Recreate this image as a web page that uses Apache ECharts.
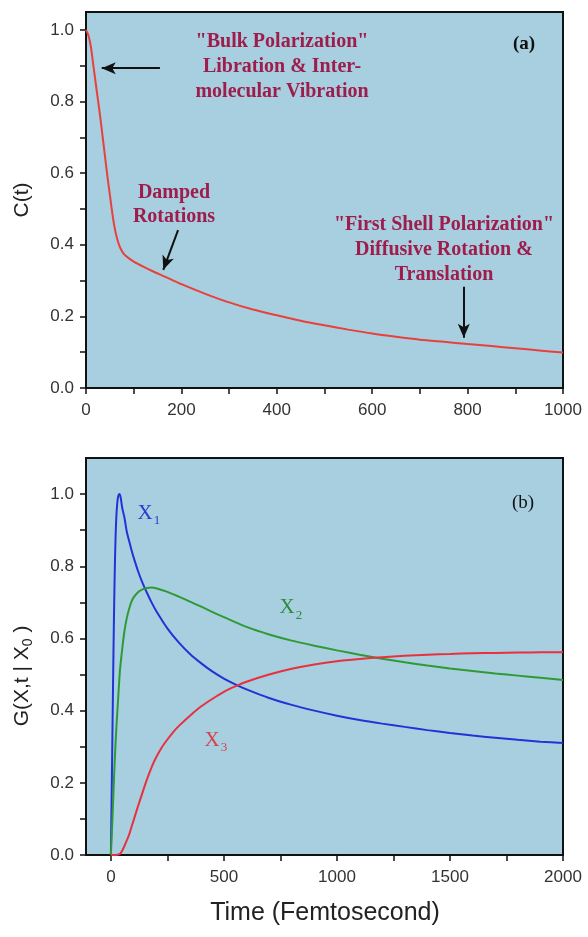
<!DOCTYPE html>
<html><head><meta charset="utf-8">
<script src="https://cdn.jsdelivr.net/npm/echarts@6/dist/echarts.min.js"></script>
<style>html,body{margin:0;padding:0;background:#fff}#c{width:588px;height:937px}</style>
</head><body><div id="c"></div>
<script>
// Panel (a): C(t)
const tA = [0,5,10,15,20,25,30,35,40,45,50,55,60,65,70,75,80,90,100,120,140,160,180,200,250,300,350,400,450,500,550,600,650,700,750,800,850,900,950,1000];
const cA = [1.0,0.985,0.955,0.905,0.855,0.805,0.755,0.700,0.645,0.590,0.540,0.490,0.448,0.418,0.397,0.383,0.373,0.362,0.353,0.339,0.326,0.314,0.302,0.290,0.263,0.239,0.219,0.203,0.188,0.175,0.163,0.152,0.143,0.135,0.129,0.123,0.117,0.111,0.105,0.099];
// Panel (b): G(X,t|X0)
const tX1 = [0,3,6,9,12,15,18,21,24,27,30,34,38,42,46,50,60,70,80,90,100,120,140,160,180,200,250,300,350,400,450,500,550,600,700,800,900,1000,1100,1200,1300,1400,1500,1600,1700,1800,1900,2000];
const gX1 = [0,0.14,0.29,0.44,0.585,0.71,0.81,0.885,0.935,0.965,0.985,0.997,1.0,0.995,0.98,0.962,0.935,0.897,0.872,0.848,0.826,0.787,0.754,0.726,0.700,0.677,0.628,0.589,0.557,0.531,0.508,0.489,0.473,0.459,0.435,0.416,0.400,0.386,0.374,0.364,0.355,0.346,0.338,0.331,0.325,0.319,0.314,0.31];
const tX2 = [0,5,10,15,20,25,30,40,50,60,70,80,90,100,120,140,160,180,200,250,300,350,400,450,500,600,700,800,900,1000,1100,1200,1300,1400,1500,1600,1700,1800,1900,2000];
const gX2 = [0,0.07,0.15,0.23,0.30,0.36,0.41,0.51,0.57,0.62,0.655,0.68,0.70,0.713,0.728,0.736,0.740,0.741,0.739,0.729,0.716,0.702,0.688,0.673,0.659,0.632,0.611,0.594,0.580,0.567,0.555,0.544,0.534,0.525,0.517,0.510,0.503,0.497,0.491,0.485];
const tX3 = [0,20,40,50,60,70,80,90,100,110,120,140,160,180,200,225,250,275,300,350,400,450,500,550,600,700,800,900,1000,1100,1200,1300,1400,1500,1600,1700,1800,1900,2000];
const gX3 = [0,0,0.003,0.012,0.025,0.040,0.055,0.075,0.095,0.115,0.135,0.173,0.210,0.243,0.270,0.298,0.320,0.340,0.357,0.386,0.412,0.433,0.452,0.467,0.480,0.500,0.516,0.528,0.537,0.543,0.548,0.552,0.555,0.557,0.559,0.560,0.561,0.562,0.562];
// Tick values
const xTicksA = [0,100,200,300,400,500,600,700,800,900,1000];
const xLabelsA = [0,200,400,600,800,1000];
const xTicksB = [0,250,500,750,1000,1250,1500,1750,2000];
const xLabelsB = [0,500,1000,1500,2000];
const yTicks = [0,0.1,0.2,0.3,0.4,0.5,0.6,0.7,0.8,0.9,1.0];
const yLabels = [0,0.2,0.4,0.6,0.8,1.0];

const zip = (a,b)=>a.map((v,i)=>[v,b[i]]);
const annCol = '#9e1d4d';
const bg = '#a7cfdf';
const sans = 'Liberation Sans';
const annFont = 'bold 20px "Liberation Serif"';

function xAx(idx, min, max, ticks, labels){
  return {type:'value', gridIndex:idx, min, max,
    axisLine:{show:true, onZero:false, lineStyle:{color:'#111', width:2}},
    axisTick:{show:true, inside:false, length:6, customValues:ticks, lineStyle:{color:'#111', width:1.5}},
    axisLabel:{customValues:labels, margin:14, fontFamily:sans, fontSize:17, color:'#333', formatter:v=>String(v)},
    splitLine:{show:false}};
}
function yAx(idx, max){
  return {type:'value', gridIndex:idx, min:0, max,
    axisLine:{show:true, onZero:false, lineStyle:{color:'#111', width:2}},
    axisTick:{show:true, inside:false, length:6, customValues:yTicks, lineStyle:{color:'#111', width:1.5}},
    axisLabel:{customValues:yLabels, margin:12, fontFamily:sans, fontSize:17, color:'#333', formatter:v=>v.toFixed(1)},
    splitLine:{show:false}};
}
const arrowLine = (p1,p2)=>[{coord:p1},{coord:p2}];

const chart = echarts.init(document.getElementById('c'), null, {renderer:'canvas'});
chart.setOption({
  animation:false,
  grid:[
    {left:86, right:25, top:12, height:376, show:true, backgroundColor:bg, borderColor:'#111', borderWidth:2},
    {left:86, right:25, top:458, height:397, show:true, backgroundColor:bg, borderColor:'#111', borderWidth:2}
  ],
  xAxis:[xAx(0,0,1000,xTicksA,xLabelsA), xAx(1,-110,2000,xTicksB,xLabelsB)],
  yAxis:[yAx(0,1.05), yAx(1,1.1)],
  series:[
    {type:'line', xAxisIndex:0, yAxisIndex:0, data:zip(tA,cA), smooth:0.25, showSymbol:false,
     lineStyle:{color:'#e8403c', width:2},
     markLine:{silent:true, symbol:['none','arrow'], symbolSize:[9,14], label:{show:false},
       lineStyle:{color:'#111', width:2, type:'solid'},
       data:[arrowLine([155,0.893],[33,0.893]), arrowLine([193,0.441],[162,0.330]), arrowLine([792,0.283],[792,0.140])]}},
    {type:'line', xAxisIndex:1, yAxisIndex:1, data:zip(tX1,gX1), smooth:0.25, showSymbol:false, lineStyle:{color:'#2233d6', width:2}},
    {type:'line', xAxisIndex:1, yAxisIndex:1, data:zip(tX2,gX2), smooth:0.25, showSymbol:false, lineStyle:{color:'#2f9a35', width:2}},
    {type:'line', xAxisIndex:1, yAxisIndex:1, data:zip(tX3,gX3), smooth:0.25, showSymbol:false, lineStyle:{color:'#e8303f', width:2}}
  ],
  graphic:[
    {type:'text', x:282, y:67, style:{text:'"Bulk Polarization"\nLibration & Inter-\nmolecular Vibration', fill:annCol, font:annFont, align:'center', verticalAlign:'middle', lineHeight:25}},
    {type:'text', x:524, y:44, style:{text:'(a)', fill:'#111', font:'bold 19px "Liberation Serif"', align:'center', verticalAlign:'middle'}},
    {type:'text', x:174, y:205, style:{text:'Damped\nRotations', fill:annCol, font:annFont, align:'center', verticalAlign:'middle', lineHeight:24}},
    {type:'text', x:444, y:250, style:{text:'"First Shell Polarization"\nDiffusive Rotation &\nTranslation', fill:annCol, font:annFont, align:'center', verticalAlign:'middle', lineHeight:25}},
    {type:'text', x:523, y:503, style:{text:'(b)', fill:'#111', font:'19px "Liberation Serif"', align:'center', verticalAlign:'middle'}},
    {type:'text', x:145, y:513, style:{text:'X', fill:'#2a3bd0', font:'21px "Liberation Serif"', align:'center', verticalAlign:'middle'}},
    {type:'text', x:157, y:521, style:{text:'1', fill:'#2a3bd0', font:'13px "Liberation Serif"', align:'center', verticalAlign:'middle'}},
    {type:'text', x:287, y:607, style:{text:'X', fill:'#2f8a3a', font:'21px "Liberation Serif"', align:'center', verticalAlign:'middle'}},
    {type:'text', x:299, y:616, style:{text:'2', fill:'#2f8a3a', font:'13px "Liberation Serif"', align:'center', verticalAlign:'middle'}},
    {type:'text', x:212, y:740, style:{text:'X', fill:'#d8404a', font:'21px "Liberation Serif"', align:'center', verticalAlign:'middle'}},
    {type:'text', x:224, y:748, style:{text:'3', fill:'#d8404a', font:'13px "Liberation Serif"', align:'center', verticalAlign:'middle'}},
    {type:'text', x:22, y:200, rotation:Math.PI/2, style:{text:'C(t)', fill:'#222', font:'21px "Liberation Sans"', align:'center', verticalAlign:'middle'}},
    {type:'text', x:22, y:676, rotation:Math.PI/2, style:{text:'{a|G(X,t | X}{b|0}{a| )}', align:'center', verticalAlign:'middle',
      rich:{a:{fontFamily:sans, fontSize:21, fill:'#222', lineHeight:26, verticalAlign:'middle'}, b:{fontFamily:sans, fontSize:14, fill:'#222', lineHeight:26, verticalAlign:'bottom'}}}},
    {type:'text', x:325, y:913, style:{text:'Time (Femtosecond)', fill:'#222', font:'25px "Liberation Sans"', align:'center', verticalAlign:'middle'}}
  ]
});
</script></body></html>
